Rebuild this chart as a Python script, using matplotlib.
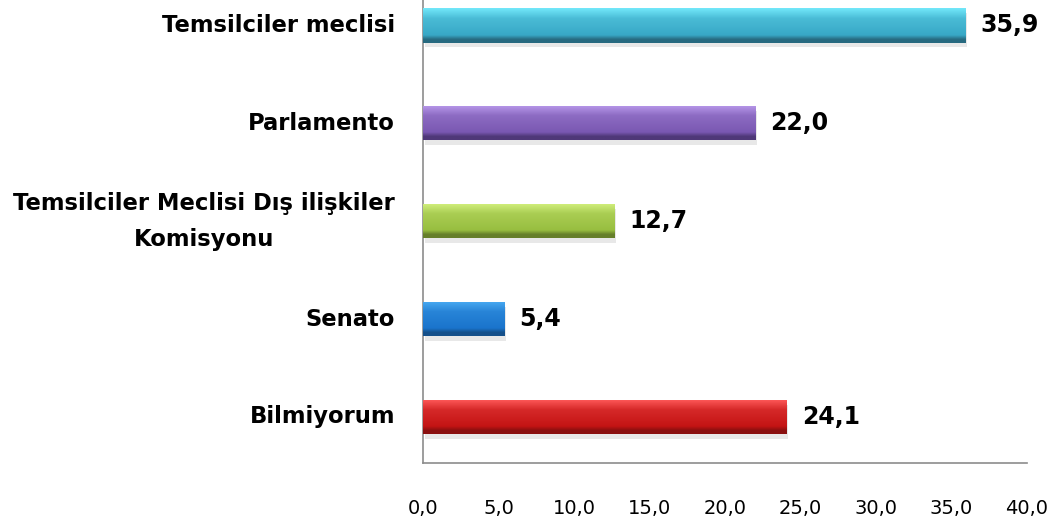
import matplotlib
matplotlib.use("Agg")
import matplotlib.pyplot as plt
import numpy as np
from matplotlib.colors import to_rgb

categories = ["Bilmiyorum", "Senato", "Temsilciler Meclisi Dış ilişkiler\nKomisyonu",
              "Parlamento", "Temsilciler meclisi"]
values = [24.1, 5.4, 12.7, 22.0, 35.9]
value_labels = ["24,1", "5,4", "12,7", "22,0", "35,9"]
xticks = [0, 5, 10, 15, 20, 25, 30, 35, 40]
xtick_labels = ["0,0", "5,0", "10,0", "15,0", "20,0", "25,0", "30,0", "35,0", "40,0"]
# (top light, middle, bottom dark) per bar
bar_colors = [
    ("#ff5a5a", "#c41414", "#8a1010"),
    ("#48aaf2", "#1a74cc", "#15508a"),
    ("#d2f07e", "#98be40", "#667f2a"),
    ("#b898ea", "#7a58b2", "#4f3878"),
    ("#72e8fa", "#38a8c6", "#276a80"),
]

plt.rcParams['font.family'] = ['DejaVu Sans']

fig = plt.figure(figsize=(10.62, 5.30), dpi=100)
ax = fig.add_axes([423/1062, (530-463)/530, (1027-423)/1062, 463/530])

y = np.arange(len(categories))
h = 0.35

# shadow
ax.barh(y - 0.05, values, height=h, left=0.1, color="#000000", alpha=0.09, zorder=1)
bars = ax.barh(y, values, height=h, color="none", edgecolor="none", zorder=2)

for b, v, yy, cols in zip(bars, values, y, bar_colors):
    c_top, c_mid, c_bot = [np.array(to_rgb(c)) for c in cols]
    n = 64
    t = np.linspace(0, 1, n)[:, None]  # 0 top -> 1 bottom
    grad = np.where(t < 0.3, c_top + (c_mid - c_top) * (t / 0.3) * 0.7,
                    np.where(t < 0.78, c_top + (c_mid - c_top) * (0.7 + 0.3 * (t - 0.3) / 0.48),
                             c_mid + (c_bot - c_mid) * np.clip((t - 0.78) / 0.12, 0, 1)))
    img = np.repeat(grad[:, None, :], 2, axis=1).reshape(n, 2, 3)
    im = ax.imshow(img, extent=(0, v, yy - h/2, yy + h/2), aspect='auto',
                   origin='upper', zorder=3, interpolation='bilinear')
    im.set_clip_path(b)

for v, yy, lab in zip(values, y, value_labels):
    ax.text(v + 1.0, yy, lab, va='center', ha='left', fontsize=17,
            fontweight='bold', color='black')

ax.set_xlim(0, 40)
ax.set_ylim(-0.47, 4.26)
ax.set_xticks(xticks)
ax.set_xticklabels(xtick_labels, fontsize=14)
ax.set_yticks(y)
ax.set_yticklabels(categories, fontsize=16.3, fontweight='bold',
                   multialignment='center', linespacing=1.7)
for lbl in ax.get_yticklabels():
    lbl.set_verticalalignment('center')
ax.tick_params(axis='x', length=0, pad=26)
ax.tick_params(axis='y', length=0, pad=20)
for s in ['top', 'right']:
    ax.spines[s].set_visible(False)
ax.spines['left'].set_color('#8c8c8c')
ax.spines['bottom'].set_color('#8c8c8c')
ax.spines['left'].set_linewidth(1.2)
ax.spines['bottom'].set_linewidth(1.2)

fig.savefig("out.png", dpi=100)
